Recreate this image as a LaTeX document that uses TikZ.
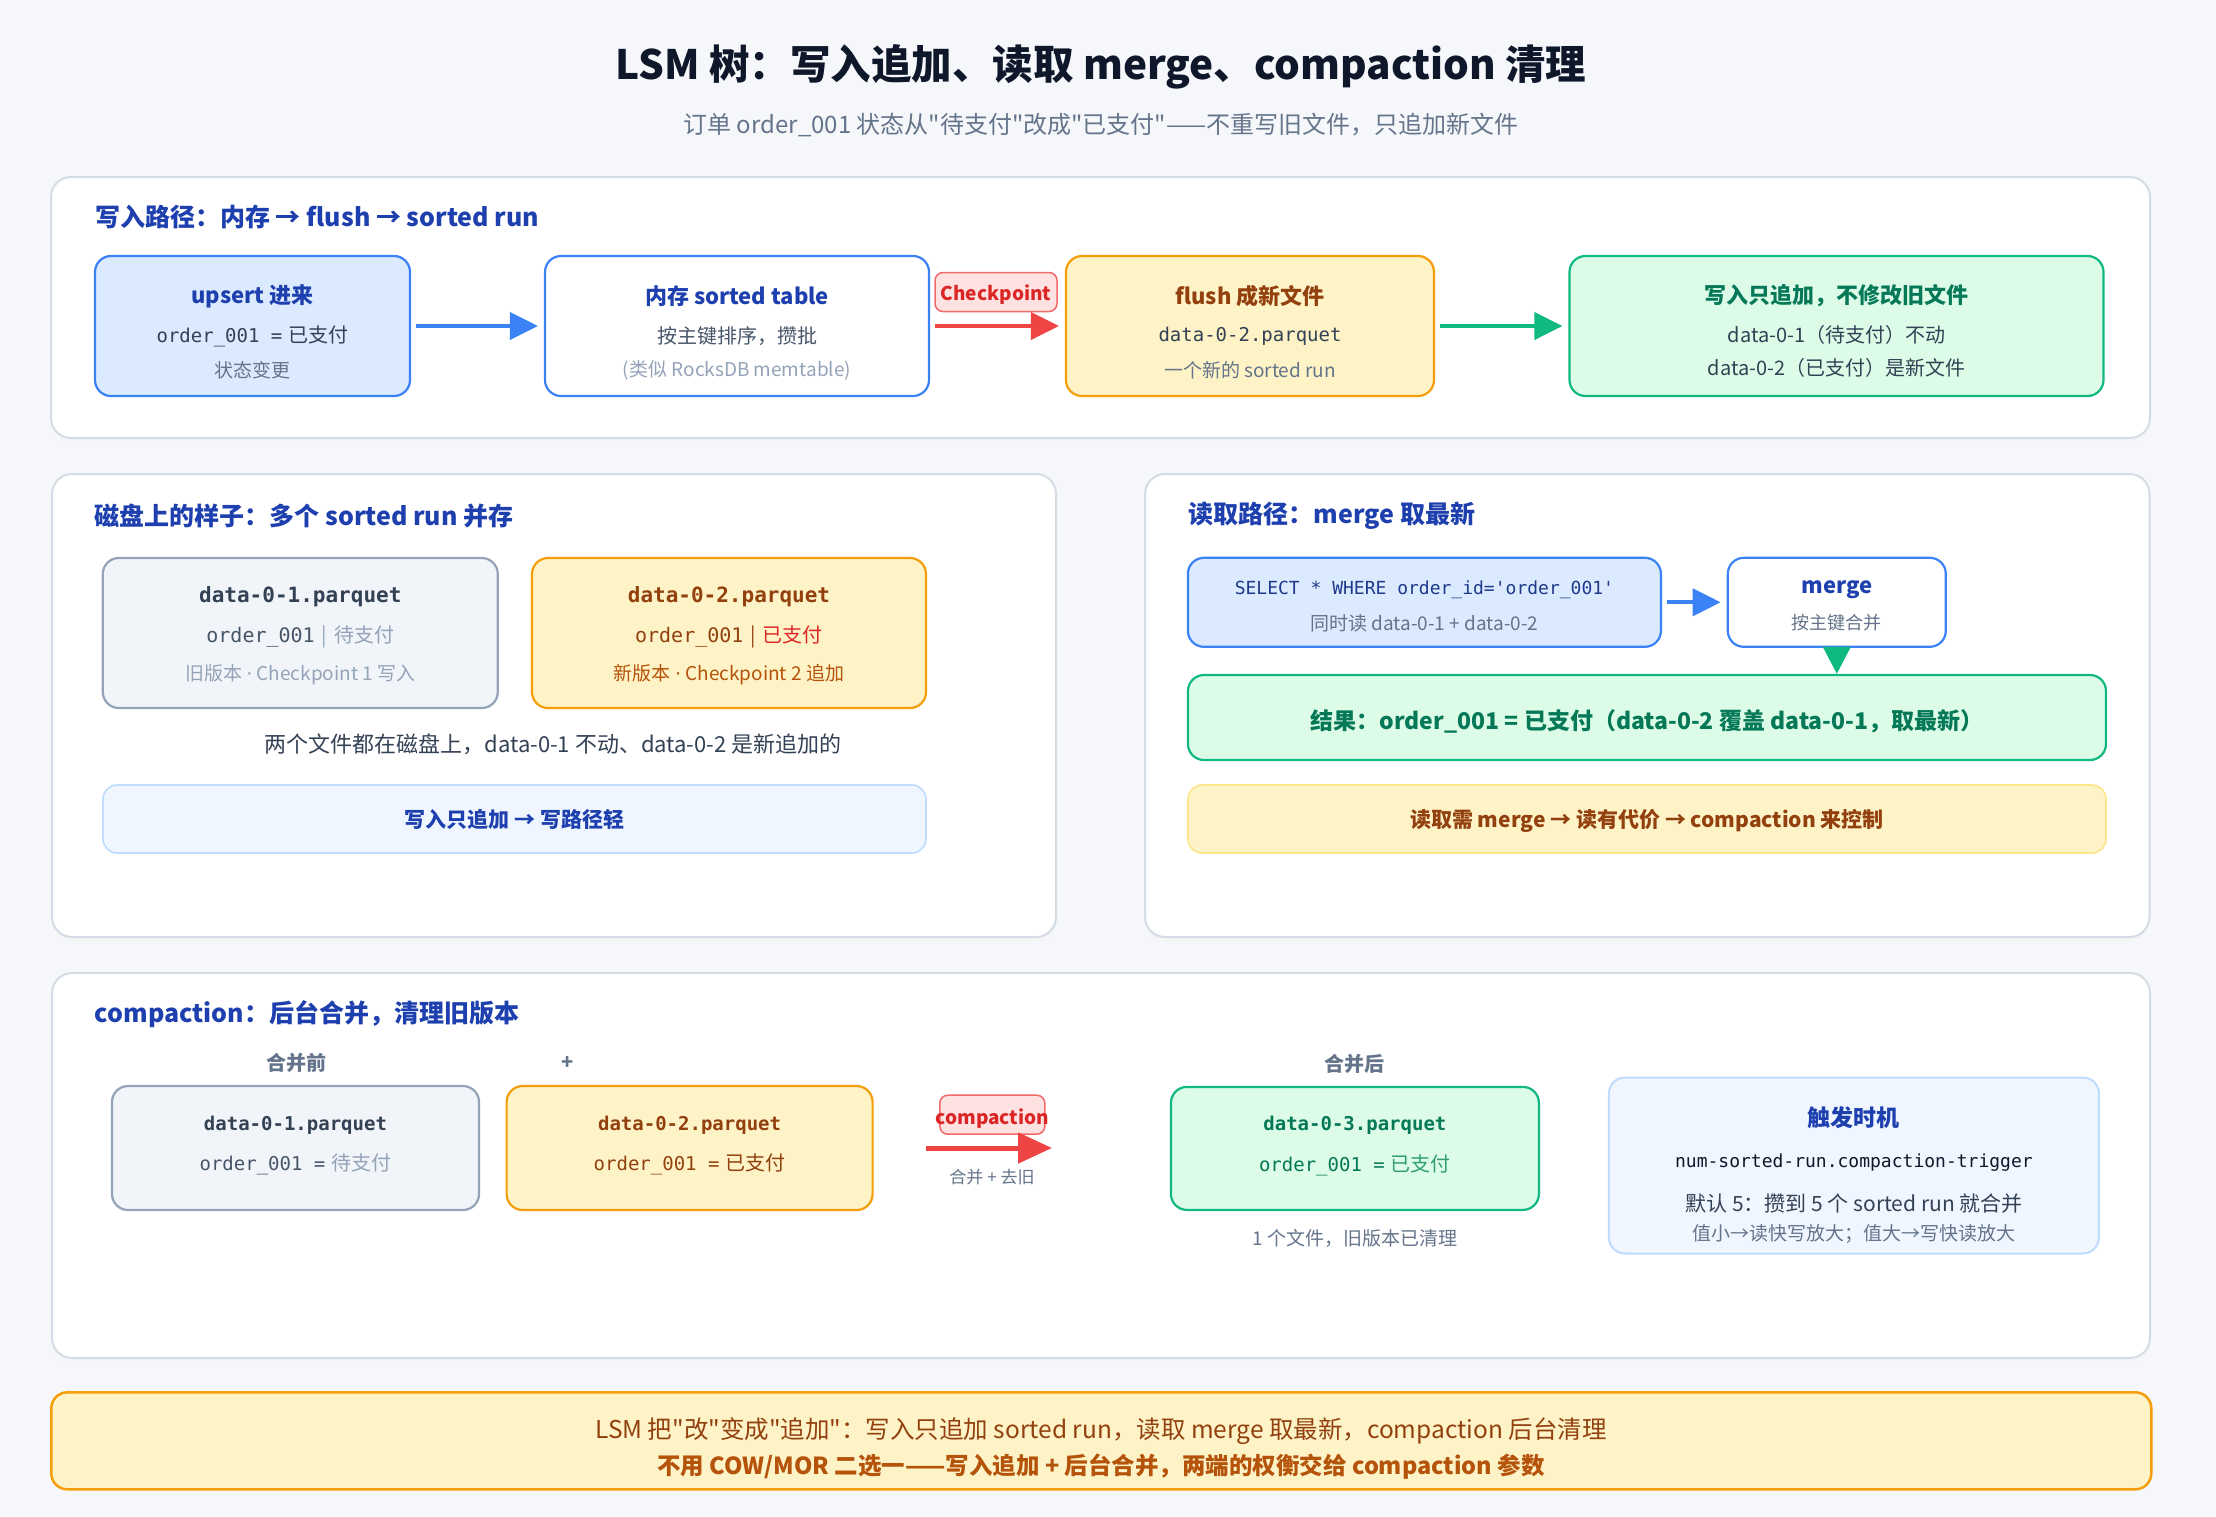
\documentclass[tikz,border=0pt]{standalone}
\usepackage{fontspec}
\setmainfont{Noto Sans CJK SC}
\setmonofont{DejaVu Sans Mono}
\newfontfamily\plainfont{Noto Sans CJK SC}
\newfontfamily\dotfont{DejaVu Sans}
\usetikzlibrary{arrows.meta,positioning,calc}

\definecolor{pagebg}{HTML}{F5F7FA}
\definecolor{panelline}{HTML}{D5DCE6}
\definecolor{inkdark}{HTML}{0F172A}
\definecolor{inkbody}{HTML}{334155}
\definecolor{inkmid}{HTML}{475569}
\definecolor{inkgray}{HTML}{64748B}
\definecolor{inklight}{HTML}{94A3B8}
\definecolor{navy}{HTML}{1E40AF}
\definecolor{sqlink}{HTML}{1E3A8A}
\definecolor{blueline}{HTML}{3B82F6}
\definecolor{bluefill}{HTML}{DBEAFE}
\definecolor{bluepale}{HTML}{EFF6FF}
\definecolor{bluesoft}{HTML}{BFDBFE}
\definecolor{amberline}{HTML}{F59E0B}
\definecolor{amberfill}{HTML}{FEF3C7}
\definecolor{ambersoft}{HTML}{FDE68A}
\definecolor{amberink}{HTML}{92400E}
\definecolor{amberlite}{HTML}{B45309}
\definecolor{greenline}{HTML}{10B981}
\definecolor{greenfill}{HTML}{DCFCE7}
\definecolor{greenink}{HTML}{047857}
\definecolor{greenlite}{HTML}{2F9E6E}
\definecolor{redline}{HTML}{EF4444}
\definecolor{redfill}{HTML}{FEE2E2}
\definecolor{redink}{HTML}{DC2626}
\definecolor{slateline}{HTML}{94A3B8}
\definecolor{slatefill}{HTML}{F1F5F9}

\newcommand{\pxfont}[1]{\fontsize{#1}{#1}\selectfont}
\newcommand{\sep}{\hspace{7pt}|\hspace{7pt}}
\newcommand{\mdot}{\ {\dotfont ·}\ }
\newcommand{\eqgap}{\hspace{6pt}}

\begin{document}
\begin{tikzpicture}[x=1pt,y=-1pt,
    panel/.style={draw=panelline, fill=white, line width=2pt, rounded corners=20pt},
    panelshadow/.style={fill=black!4, rounded corners=20pt},
    box/.style={draw, line width=2.2pt, rounded corners=16pt, inner sep=0pt},
    bluebox/.style={box, draw=blueline, fill=bluefill},
    whitebox/.style={box, draw=blueline, fill=white},
    amberbox/.style={box, draw=amberline, fill=amberfill},
    greenbox/.style={box, draw=greenline, fill=greenfill},
    slatebox/.style={box, draw=slateline, fill=slatefill},
    palebox/.style={box, line width=1.6pt, rounded corners=14pt, draw=bluesoft, fill=bluepale},
    softamber/.style={box, line width=1.6pt, rounded corners=14pt, draw=ambersoft, fill=amberfill},
    tagbox/.style={box, line width=1.5pt, rounded corners=8pt, draw=redline!80, fill=redfill},
    txt/.style={inner sep=0pt, align=center},
    heading/.style={txt, anchor=west, text=navy, font=\pxfont{25}\bfseries},
    boxtitle/.style={txt, font=\pxfont{22}\bfseries},
    bodytxt/.style={txt, text=inkbody, font=\pxfont{20}},
    notetxt/.style={txt, text=inkgray, font=\pxfont{19}},
    monotxt/.style={txt, font=\pxfont{19}\ttfamily},
    flow/.style={-{Triangle[length=28pt,width=27pt]}, line width=4pt, shorten <=5pt, shorten >=6pt},
  ]
  \useasboundingbox (0,0) rectangle (2216,1516);
  \fill[pagebg] (0,0) rectangle (2216,1516);

  % title
  \node[txt, text=inkdark, font=\pxfont{40.5}\bfseries] (title) at (1101,67) {LSM 树：写入追加、读取 merge、compaction 清理};
  \node[txt, text=inkgray, font=\pxfont{24}\plainfont] (subtitle) at (1101,125) {订单 order\_001 状态从"待支付"改成"已支付"——不重写旧文件，只追加新文件};

  % write path
  \fill[panelshadow] (51,181) rectangle (2150,442);
  \draw[panel] (51,177) rectangle (2150,438);
  \node[heading] (writehead) at (95,217) {写入路径：内存 → flush → sorted run};

  \node[bluebox, minimum width=315, minimum height=140] (upsert) at (252.5,326) {};
  \node[boxtitle, text=navy] (upsert-t) at (252.5,296) {upsert 进来};
  \node[bodytxt] (upsert-a) at (252.5,336) {{\ttfamily\pxfont{19}order\_001 =}\eqgap 已支付};
  \node[notetxt] (upsert-b) at (252.5,370) {状态变更};

  \node[whitebox, minimum width=384, minimum height=140] (memtable) at (737,326) {};
  \node[boxtitle, text=navy] (mem-t) at (737,296) {内存 sorted table};
  \node[bodytxt, text=inkmid] (mem-a) at (737,336) {按主键排序，攒批};
  \node[notetxt, text=inklight] (mem-b) at (737,370) {(类似 RocksDB memtable)};

  \node[tagbox, minimum width=122, minimum height=39] (ckpt) at (996,292) {};
  \node[txt, text=redink, font=\pxfont{19}\bfseries] (ckpt-t) at (996,295) {Checkpoint};

  \node[amberbox, minimum width=368, minimum height=140] (flush) at (1250,326) {};
  \node[boxtitle, text=amberink] (flush-t) at (1250,296) {flush 成新文件};
  \node[monotxt, text=inkbody] (flush-a) at (1250,336) {data-0-2.parquet};
  \node[notetxt] (flush-b) at (1250,370) {一个新的 sorted run};

  \node[greenbox, minimum width=534, minimum height=140] (appended) at (1836.5,326) {};
  \node[boxtitle, text=greenink] (app-t) at (1836.5,296) {写入只追加，不修改旧文件};
  \node[bodytxt] (app-a) at (1836.5,335) {data-0-1（待支付）不动};
  \node[bodytxt] (app-b) at (1836.5,368) {data-0-2（已支付）是新文件};

  \draw[flow, blueline] (upsert) -- (memtable);
  \draw[flow, redline] (memtable) -- (flush);
  \draw[flow, greenline] (flush) -- (appended);

  % disk layout
  \fill[panelshadow] (52,478) rectangle (1056,941);
  \draw[panel] (52,474) rectangle (1056,937);
  \node[heading] (diskhead) at (94.5,516) {磁盘上的样子：多个 sorted run 并存};

  \node[slatebox, minimum width=395, minimum height=150] (run1) at (300.3,633) {};
  \node[monotxt, text=inkbody, font=\pxfont{21}\ttfamily\bfseries] (run1-t) at (300.3,597) {data-0-1.parquet};
  \node[bodytxt, text=inklight] (run1-a) at (300.3,637) {\textcolor{inkmid}{\ttfamily\pxfont{20}order\_001}\sep 待支付};
  \node[notetxt, text=inklight] (run1-b) at (300.3,675) {旧版本\mdot Checkpoint 1 写入};

  \node[amberbox, minimum width=394, minimum height=150] (run2) at (729,633) {};
  \node[monotxt, text=amberink, font=\pxfont{21}\ttfamily\bfseries] (run2-t) at (729,597) {data-0-2.parquet};
  \node[bodytxt, text=amberink] (run2-a) at (729,637) {{\ttfamily\pxfont{20}order\_001}\sep\textcolor{redink}{已支付}};
  \node[notetxt, text=amberlite] (run2-b) at (729,675) {新版本\mdot Checkpoint 2 追加};

  \node[bodytxt, font=\pxfont{22}] (diskcap) at (553,744) {两个文件都在磁盘上，data-0-1 不动、data-0-2 是新追加的};
  \node[palebox, minimum width=823, minimum height=68, text=navy, font=\pxfont{21}\bfseries] (writebar) at (514.5,819) {写入只追加 → 写路径轻};

  % read path
  \fill[panelshadow] (1145,478) rectangle (2149.5,941);
  \draw[panel] (1145,474) rectangle (2149.5,937);
  \node[heading] (readhead) at (1188.5,516) {读取路径：merge 取最新};

  \node[bluebox, minimum width=473, minimum height=89] (query) at (1424.4,602.3) {};
  \node[monotxt, text=sqlink, font=\pxfont{18}\ttfamily] (query-a) at (1424.4,590) {SELECT * WHERE order\_id='order\_001'};
  \node[notetxt] (query-b) at (1424.4,623) {同时读 data-0-1 + data-0-2};

  \node[whitebox, minimum width=218, minimum height=89] (merge) at (1836.8,602.3) {};
  \node[boxtitle, text=navy] (merge-t) at (1836.8,590) {merge};
  \node[notetxt, font=\pxfont{18}] (merge-b) at (1836.8,623) {按主键合并};

  \node[greenbox, minimum width=918, minimum height=85] (result) at (1647,717.5) {};
  \node[txt, text=greenink, font=\pxfont{23}\bfseries] (result-t) at (1647,721) {结果：order\_001 = 已支付（data-0-2 覆盖 data-0-1，取最新）};
  \node[softamber, minimum width=918, minimum height=68] (costbar) at (1647,819) {};
  \node[txt, text=amberink, font=\pxfont{21}\bfseries] (costbar-t) at (1647,821) {读取需 merge → 读有代价 → compaction 来控制};

  \draw[flow, blueline] (query) -- (merge);
  \draw[-{Triangle[length=27pt,width=27pt]}, line width=4pt, greenline] (merge.south) -- (merge.south |- result.north);

  % compaction
  \fill[panelshadow] (52,977) rectangle (2150,1362);
  \draw[panel] (52,973) rectangle (2150,1358);
  \node[heading] (compacthead) at (94.7,1014) {compaction：后台合并，清理旧版本};

  \node[txt, text=inkgray, font=\pxfont{20}\bfseries] (beforelbl) at (296,1063) {合并前};
  \node[txt, text=inkgray, font=\pxfont{20}\bfseries] (pluslbl) at (567.5,1063) {+};
  \node[txt, text=inkgray, font=\pxfont{20}\bfseries] (afterlbl) at (1354.8,1064) {合并后};

  \node[slatebox, minimum width=367, minimum height=124] (oldrun) at (295.5,1148) {};
  \node[monotxt, text=inkbody, font=\pxfont{19}\ttfamily\bfseries] (oldrun-t) at (295.5,1125) {data-0-1.parquet};
  \node[bodytxt, text=inklight] (oldrun-a) at (295.5,1164) {\textcolor{inkmid}{\ttfamily\pxfont{19}order\_001 =}\eqgap 待支付};

  \node[amberbox, minimum width=366, minimum height=124] (newrun) at (689.6,1148) {};
  \node[monotxt, text=amberink, font=\pxfont{19}\ttfamily\bfseries] (newrun-t) at (689.6,1125) {data-0-2.parquet};
  \node[bodytxt, text=amberink] (newrun-a) at (689.6,1164) {{\ttfamily\pxfont{19}order\_001 =}\eqgap 已支付};

  \node[tagbox, minimum width=105, minimum height=39] (ctag) at (992.3,1114.7) {};
  \node[txt, text=redink, font=\pxfont{19}\bfseries] (ctag-t) at (992.3,1119) {compaction};
  \coordinate (cfrom) at (926,1148);
  \coordinate (cto) at (1052,1148);
  \draw[-{Triangle[length=34pt,width=30pt]}, line width=5pt, redline] (cfrom) -- (cto);
  \node[notetxt, font=\pxfont{17}] (mergenote) at (992,1177) {合并 + 去旧};

  \node[greenbox, minimum width=368, minimum height=123] (merged) at (1354.9,1148.4) {};
  \node[monotxt, text=greenink, font=\pxfont{19}\ttfamily\bfseries] (merged-t) at (1354.9,1125) {data-0-3.parquet};
  \node[bodytxt, text=greenlite] (merged-a) at (1354.9,1165.7) {\textcolor{greenink}{\ttfamily\pxfont{19}order\_001 =}\eqgap 已支付};
  \node[notetxt] (mergedcap) at (1354.8,1238) {1 个文件，旧版本已清理};

  \node[palebox, line width=2pt, rounded corners=16pt, minimum width=490, minimum height=176] (trigger) at (1853.9,1165.5) {};
  \node[boxtitle, text=navy, font=\pxfont{23}\bfseries] (trig-t) at (1853.9,1118) {触发时机};
  \node[monotxt, text=inkdark, font=\pxfont{18}\ttfamily] (trig-a) at (1853.9,1162.3) {num-sorted-run.compaction-trigger};
  \node[bodytxt, font=\pxfont{21}] (trig-b) at (1853.9,1204) {默认 5：攒到 5 个 sorted run 就合并};
  \node[notetxt, font=\pxfont{19}] (trig-c) at (1853.9,1234) {值小→读快写放大；值大→写快读放大};

  % summary
  \node[box, line width=2.5pt, draw=amberline, fill=amberfill, minimum width=2100, minimum height=97] (summary) at (1101.3,1440.8) {};
  \node[txt, text=amberink, font=\pxfont{24.5}\plainfont] (sum-a) at (1101,1431) {LSM 把"改"变成"追加"：写入只追加 sorted run，读取 merge 取最新，compaction 后台清理};
  \node[txt, text=amberlite, font=\pxfont{23.5}\bfseries] (sum-b) at (1101,1467) {不用 COW/MOR 二选一——写入追加 + 后台合并，两端的权衡交给 compaction 参数};
\end{tikzpicture}
\end{document}
